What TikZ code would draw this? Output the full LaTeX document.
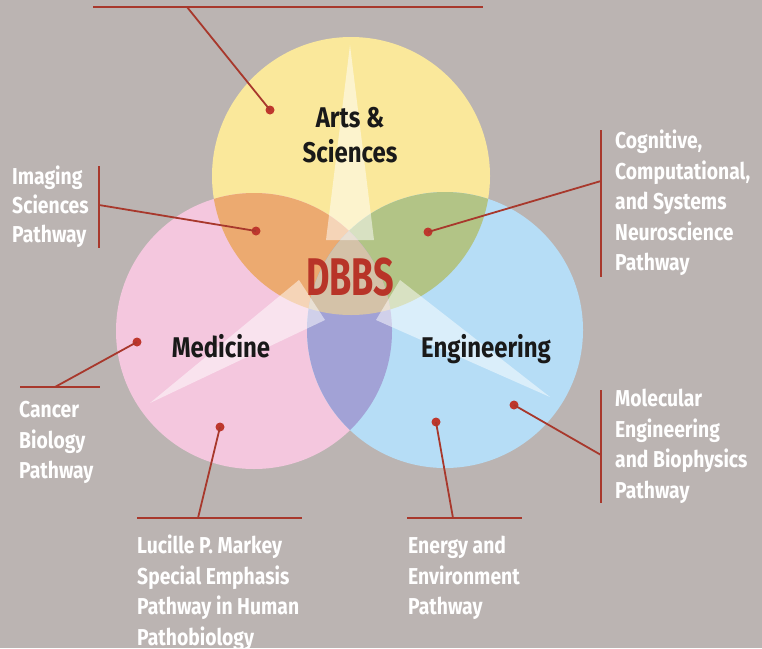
\documentclass[tikz,border=0pt]{standalone}
\usepackage{fontspec}
\setmainfont{Fira Sans}
\newfontfamily\lblfont{Fira Sans}[FakeStretch=0.84]
\newfontfamily\dbbsfont{Fira Sans}[FakeStretch=0.68]
\definecolor{bg}{RGB}{187,180,178}
\definecolor{cyel}{RGB}{250,232,155}
\definecolor{cpink}{RGB}{244,199,222}
\definecolor{cblue}{RGB}{182,221,246}
\definecolor{corange}{RGB}{236,170,112}
\definecolor{cgreen}{RGB}{178,196,134}
\definecolor{cpurple}{RGB}{162,162,214}
\definecolor{ccenter}{RGB}{212,194,168}
\definecolor{lred}{RGB}{168,56,44}
\definecolor{dred}{RGB}{190,55,45}
\definecolor{tred}{RGB}{184,52,40}
\definecolor{ink}{RGB}{25,25,25}
\begin{document}
\begin{tikzpicture}[x=1pt,y=-1pt,
  pointer/.style={draw=lred, line width=1.8pt},
  dot/.style={circle, fill=dred, minimum size=9pt, inner sep=0pt},
  lbl/.style={text=white, align=left, anchor=north west, inner sep=0pt,
    font=\lblfont\bfseries\fontsize{23}{30.5}\selectfont},
  circlbl/.style={text=ink, inner sep=0pt,
    font=\lblfont\bfseries\fontsize{28.5}{35}\selectfont}]
\fill[bg] (0,0) rectangle (762,648);
\useasboundingbox (0,0) rectangle (762,648);
% circles
\coordinate (cy) at (351,176);
\coordinate (cp) at (254,331);
\coordinate (cb) at (445,330);
\def\pathY{(cy) circle[radius=139pt]}
\def\pathP{(cp) circle[radius=138pt]}
\def\pathB{(cb) circle[radius=138pt]}
\fill[cyel] \pathY;
\fill[cpink] \pathP;
\fill[cblue] \pathB;
\begin{scope}\clip \pathY; \fill[corange] \pathP; \fill[cgreen] \pathB; \end{scope}
\begin{scope}\clip \pathP; \fill[cpurple] \pathB; \end{scope}
\begin{scope}\clip \pathY; \clip \pathP; \fill[ccenter] \pathB; \end{scope}
% light rays
\fill[white, fill opacity=0.5]
  (350,45) -- (326,240) -- (374,240) -- cycle
  (150,403) -- (299,280) -- (325,320) -- cycle
  (550,397) -- (376,320) -- (400,280) -- cycle;
% circle labels
\node[circlbl, align=center, anchor=north] (arts) at (350,107) {Arts \&\\Sciences};
\node[circlbl, anchor=base] (med) at (221,357) {Medicine};
\node[circlbl, anchor=base] (eng) at (486,357) {Engineering};
\node[text=tred, inner sep=0pt, anchor=base,
  font=\dbbsfont\bfseries\fontsize{53}{60}\selectfont] (dbbs) at (350,295) {DBBS};
% dots
\node[dot] (dA) at (270,110) {};
\node[dot] (dI) at (256,231) {};
\node[dot] (dC) at (428,232) {};
\node[dot] (dK) at (137,342) {};
\node[dot] (dM) at (514,405) {};
\node[dot] (dL) at (220,427) {};
\node[dot] (dE) at (436,422) {};
% bars
\coordinate (tA1) at (93,7);   \coordinate (tA2) at (483,7);   \coordinate (tA) at (187,7);
\coordinate (tI1) at (99,166); \coordinate (tI2) at (99,248);  \coordinate (tI) at (99,205);
\coordinate (tC1) at (601,130);\coordinate (tC2) at (601,277); \coordinate (tC) at (601,181);
\coordinate (tK1) at (20,387); \coordinate (tK2) at (100,387); \coordinate (tK) at (55,387);
\coordinate (tM1) at (601,390);\coordinate (tM2) at (601,503); \coordinate (tM) at (601,455);
\coordinate (tL1) at (137,518);\coordinate (tL2) at (302,518); \coordinate (tL) at (198,518);
\coordinate (tE1) at (407,518);\coordinate (tE2) at (522,518); \coordinate (tE) at (453,518);
\foreach \k in {A,I,C,K,M,L,E}{
  \draw[pointer] (t\k1) -- (t\k2);
  \draw[pointer] (t\k) -- (d\k.center);
}
% pathway labels
\node[lbl, font=\lblfont\bfseries\fontsize{23}{29}\selectfont] (imaging) at (12,166) {Imaging\\Sciences\\Pathway};
\node[lbl] (cogn) at (615,130) {Cognitive,\\Computational,\\and Systems\\Neuroscience\\Pathway};
\node[lbl] (cancer) at (19,401) {Cancer\\Biology\\Pathway};
\node[lbl] (molec) at (615,389) {Molecular\\Engineering\\and Biophysics\\Pathway};
\node[lbl] (lucille) at (137,535) {Lucille P. Markey\\Special Emphasis\\Pathway in Human\\Pathobiology};
\node[lbl] (energy) at (408,536) {Energy and\\Environment\\Pathway};
\end{tikzpicture}
\end{document}
